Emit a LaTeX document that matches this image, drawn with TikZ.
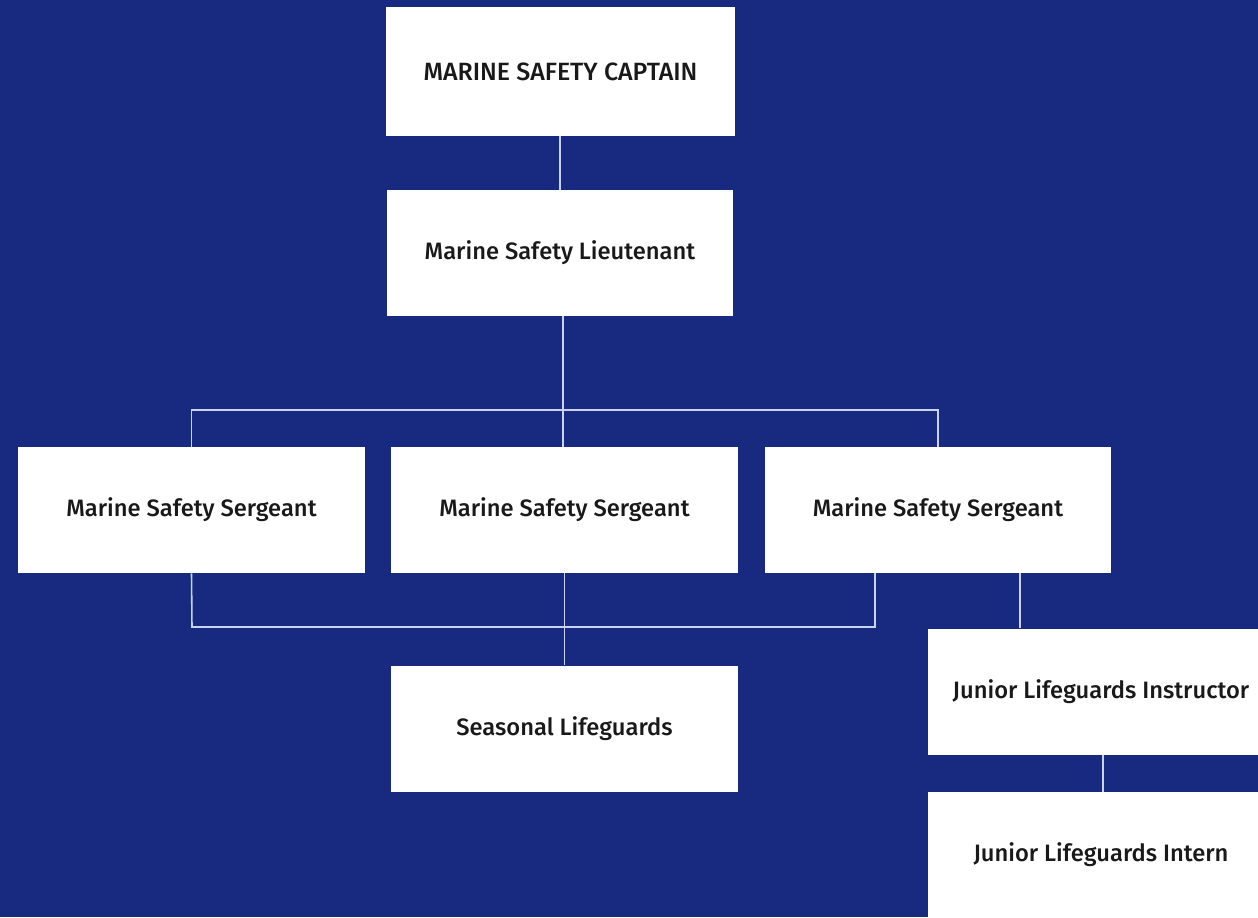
\documentclass[tikz,border=0pt]{standalone}
\usepackage{fontspec}
\setmainfont{Fira Sans}[UprightFont={* Medium}, BoldFont={* SemiBold}]
\usepackage{tikz}

\definecolor{navy}{HTML}{182A80}
\definecolor{wire}{HTML}{C9D2F2}

\begin{document}
\begin{tikzpicture}[x=0.02cm, y=-0.02cm,
  post/.style={fill=white, minimum width=6.94cm, minimum height=2.52cm,
    inner sep=0pt, font=\fontsize{13.5}{15}\selectfont, text=black!90},
  link/.style={draw=wire, line width=0.9pt}]
\fill[navy] (0,0) rectangle (1258,917);
\useasboundingbox (0,0) rectangle (1258,917);
\clip (0,0) rectangle (1258,917);
\node[post, minimum width=6.98cm, minimum height=2.58cm, font=\fontsize{14.2}{16}\selectfont] (captain) at (560.5,71.5) {MARINE SAFETY CAPTAIN};
\node[post] (lieutenant) at (560,253) {Marine Safety Lieutenant};
\node[post] (sgt1) at (191.5,510) {Marine Safety Sergeant};
\node[post] (sgt2) at (564.5,510) {Marine Safety Sergeant};
\node[post] (sgt3) at (938,510) {Marine Safety Sergeant};
\node[post] (seasonal) at (564.5,728.5) {Seasonal Lifeguards};
\node[post] (instructor) at (1101,691.5) {Junior Lifeguards Instructor};
\node[post] (intern) at (1101,855) {Junior Lifeguards Intern};
\coordinate (split) at (563,410);
\coordinate (base) at (192,627);
% upper part
\draw[link] (captain.south -| lieutenant.north) -- (lieutenant.north);
\draw[link] (lieutenant.south -| split) -- (split);
\draw[link] (sgt1.north) |- (split) -| (sgt3.north);
\draw[link] (split) -- (sgt2.north -| split);
% lower part
\draw[link] (sgt1.south) -- (base) -- (875,627) -- (875,573);
\draw[link] (sgt2.south) -- (seasonal.north);
\draw[link] (1020,573) -- (instructor.north -| 1020,0);
\draw[link] (instructor.south -| 1103,0) -- (intern.north -| 1103,0);
\end{tikzpicture}
\end{document}
